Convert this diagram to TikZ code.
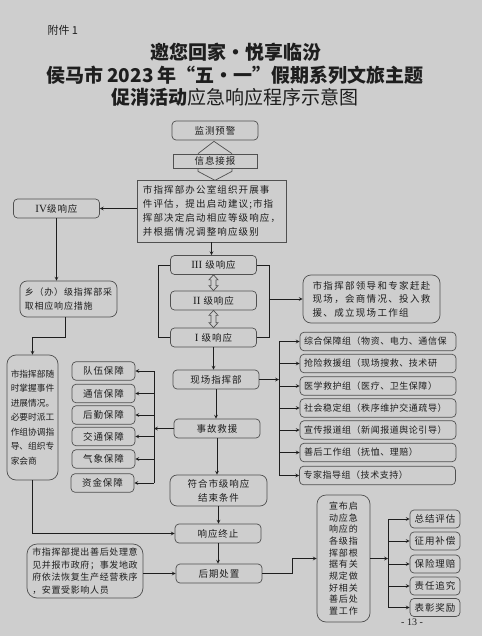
\documentclass[tikz,border=0pt]{standalone}
\usepackage{fontspec}
\usepackage{xcolor}
\usepackage{tikz}
\usetikzlibrary{arrows,calc}
\newfontfamily\cjk{Noto Sans CJK SC}
\newfontfamily\romn{Liberation Serif}
\newcommand{\rnum}[1]{{\romn\fontsize{11}{12}\selectfont #1}}
\definecolor{paper}{RGB}{206,206,206}
\definecolor{ink}{RGB}{30,30,30}
\definecolor{edge}{RGB}{80,80,80}

\begin{document}
\begin{tikzpicture}[
    x=1pt, y=-1pt,
    box/.style={rectangle, draw=edge, fill=paper, line width=0.7pt, rounded corners=4pt, inner sep=2pt, text=ink,
        font=\cjk\fontsize{9.5}{12}\selectfont\addfontfeature{LetterSpace=10}},
    stepbox/.style={box, minimum width=86, minimum height=19},
    supbox/.style={box, minimum width=63, minimum height=18.5},
    grpbox/.style={box, minimum width=156, minimum height=18.5, text width=148, align=left,
        font=\cjk\fontsize{9}{11}\selectfont\addfontfeature{LetterSpace=6}},
    finbox/.style={box, minimum width=50, minimum height=18},
    hollow/.style={draw=edge, line width=0.7pt},
    link/.style={draw=ink, line width=0.7pt},
    arrow/.style={->, >=stealth, draw=ink, line width=0.7pt}
]
    \fill[paper] (0,0) rectangle (482,636);

    % heading
    \node[anchor=west, text=ink, font=\cjk\fontsize{11}{13}\selectfont] (att) at (44,30) {附件 1};
    \node[text=ink, font=\cjk\bfseries\fontsize{19}{22}\selectfont] (t1) at (235.5,52) {邀您回家・悦享临汾};
    \node[text=ink, font=\cjk\bfseries\fontsize{19}{22}\selectfont] (t2) at (235,75) {侯马市 2023 年“五・一”假期系列文旅主题};
    \node[text=ink, font=\cjk\fontsize{19}{22}\selectfont] (t3) at (235,97) {{\bfseries 促消活动}应急响应程序示意图};

    % main column
    \node[stepbox] (mon) at (215,130.5) {监测预警};
    \node[box, sharp corners, minimum width=84, minimum height=14, inner sep=1pt] (info) at (215,161) {信息接报};
    \node[box, sharp corners, minimum width=149, minimum height=62, align=left,
        font=\cjk\fontsize{9.5}{14}\selectfont\addfontfeature{LetterSpace=12}] (office) at (211.5,211)
        {市指挥部办公室组织开展事\\件评估，提出启动建议;市指\\挥部决定启动相应等级响应，\\并根据情况调整响应级别};
    \node[stepbox] (l4) at (56.5,208.5) {\rnum{IV}级响应};
    \node[stepbox] (l3) at (213.5,265) {\rnum{III} 级响应};
    \node[stepbox] (l2) at (213.5,300.5) {\rnum{II} 级响应};
    \node[stepbox] (l1) at (213.5,337.5) {\rnum{I} 级响应};
    \node[box, rounded corners=8pt, minimum width=137, minimum height=48, align=left,
        font=\cjk\fontsize{9.5}{13.5}\selectfont\addfontfeature{LetterSpace=14}] (lead) at (371.5,299)
        {市指挥部领导和专家赶赴\\现场，会商情况、投入救\\援、成立现场工作组};
    \node[stepbox] (site) at (216,379.5) {现场指挥部};
    \node[stepbox] (rescue) at (217,428.5) {事故救援};
    \node[box, rounded corners=7pt, minimum width=97, minimum height=31, align=center,
        font=\cjk\fontsize{9.5}{14}\selectfont\addfontfeature{LetterSpace=10}] (endc) at (218.5,490.5)
        {符合市级响应\\结束条件};
    \node[stepbox] (stop) at (218,533.5) {响应终止};
    \node[stepbox] (later) at (219,573.5) {后期处置};

    % left column
    \node[box, rounded corners=7pt, minimum width=97, minimum height=36, align=left,
        font=\cjk\fontsize{9}{14}\selectfont\addfontfeature{LetterSpace=9}] (town) at (68.5,299)
        {乡（办）级指挥部采\\取相应响应措施};
    \node[box, rounded corners=9pt, minimum width=51, minimum height=125, align=left,
        font=\cjk\fontsize{8.7}{14.5}\selectfont] (track) at (32.5,417.5)
        {市指挥部随\\时掌握事件\\进展情况。\\必要时派工\\作组协调指\\导、组织专\\家会商};
    \node[box, rounded corners=10pt, minimum width=116, minimum height=54, align=left,
        font=\cjk\fontsize{9}{12.5}\selectfont\addfontfeature{LetterSpace=7}] (after) at (85,571)
        {市指挥部提出善后处理意\\见并报市政府；事发地政\\府依法恢复生产经营秩序\\，安置受影响人员};

    % support boxes
    \node[supbox] (s1) at (103.5,371) {队伍保障};
    \node[supbox] (s2) at (103.5,393.5) {通信保障};
    \node[supbox] (s3) at (103.5,415) {后勤保障};
    \node[supbox] (s4) at (103.5,436.5) {交通保障};
    \node[supbox] (s5) at (103.5,459) {气象保障};
    \node[supbox] (s6) at (102.5,483) {资金保障};

    % working groups
    \node[grpbox] (g1) at (378,341.5) {综合保障组（物资、电力、通信保};
    \node[grpbox] (g2) at (378,363.5) {抢险救援组（现场搜救、技术研};
    \node[grpbox] (g3) at (378,386) {医学救护组（医疗、卫生保障）};
    \node[grpbox] (g4) at (378,408) {社会稳定组（秩序维护交通疏导）};
    \node[grpbox] (g5) at (378,430) {宣传报道组（新闻报道舆论引导）};
    \node[grpbox] (g6) at (378,452.5) {善后工作组（抚恤、理赔）};
    \node[grpbox] (g7) at (377.5,475.5) {专家指导组（技术支持）};

    % aftermath
    \node[box, rounded corners=9pt, minimum width=53, minimum height=127, align=center,
        font=\cjk\fontsize{9}{11.7}\selectfont\addfontfeature{LetterSpace=10}] (announce) at (343.5,558.5)
        {宣布启\\动应急\\响应的\\各级指\\挥部根\\据有关\\规定做\\好相关\\善后处\\置工作};
    \node[finbox] (f1) at (435,519) {总结评估};
    \node[finbox] (f2) at (435,541) {征用补偿};
    \node[finbox] (f3) at (435,564) {保险理赔};
    \node[finbox] (f4) at (435,586) {责任追究};
    \node[finbox] (f5) at (435,607.5) {表彰奖励};
    \node[text=ink, font=\romn\fontsize{10}{12}\selectfont] (pg) at (412,622) {- 13 -};

    % hollow arrows
    \draw[hollow] ($(info.north)+(-17,0)$) -- ($(mon.south)+(-1,1)$) -- ($(info.north)+(17,0)$);
    \draw[hollow] ($(info.south)+(-17,0)$) -- ++(0,3) -- ($(info.south)+(0,12)$) -- ($(info.south)+(17,3)$) -- ++(0,-3);
    \draw[hollow] (l3.south) -- ++(4.5,5) -- ++(-2,0) -- ($(l2.north)+(2.5,-5)$) -- ++(2,0) -- (l2.north)
        -- ++(-4.5,-5) -- ++(2,0) -- ($(l3.south)+(-2.5,5)$) -- ++(-2,0) -- cycle;
    \draw[hollow] (l2.south) -- ++(4.5,5) -- ++(-2,0) -- ($(l1.north)+(2.5,-5)$) -- ++(2,0) -- (l1.north)
        -- ++(-4.5,-5) -- ++(2,0) -- ($(l2.south)+(-2.5,5)$) -- ++(-2,0) -- cycle;

    % connectors
    \draw[arrow] (l4.east -| office.west) -- (l4.east);
    \draw[arrow] (l4.south) -- (l4.south |- town.north);
    \draw[arrow] ([xshift=-3]town.south) -- ++(0,20) -| (track.north);
    \draw[arrow] (track.south) |- (stop.west);
    \draw[arrow] (office.south) -- (office.south |- l3.north);
    \draw[link] (l3.west) -- ++(-12,0) |- (l1.west);
    \draw[link] (l3.east) -- ++(12,0) |- (l1.east);
    \coordinate (rb) at ($(l2.east)+(12,0)$);
    \draw[arrow] (rb |- lead.west) -- (lead.west);
    \draw[arrow] (l1.south) -- (l1.south |- site.north);
    \draw[arrow] (site.south) -- (site.south |- rescue.north);

    \coordinate (gbus) at (279,379.5);
    \draw[arrow] (site.east) -- (gbus);
    \draw[link] (gbus |- g1.west) -- (gbus |- g7.west);
    \draw[arrow] (gbus |- g1.west) -- (g1.west);
    \draw[arrow] (gbus |- g2.west) -- (g2.west);
    \draw[arrow] (gbus |- g3.west) -- (g3.west);
    \draw[arrow] (gbus |- g4.west) -- (g4.west);
    \draw[arrow] (gbus |- g5.west) -- (g5.west);
    \draw[arrow] (gbus |- g6.west) -- (g6.west);
    \draw[arrow] (gbus |- g7.west) -- (g7.west);

    \coordinate (sbus) at (154,428.5);
    \draw[arrow] (rescue.west) -- (sbus);
    \draw[link] (sbus |- s1.east) -- (sbus |- s6.east);
    \draw[arrow] (sbus |- s1.east) -- (s1.east);
    \draw[arrow] (sbus |- s2.east) -- (s2.east);
    \draw[arrow] (sbus |- s3.east) -- (s3.east);
    \draw[arrow] (sbus |- s4.east) -- (s4.east);
    \draw[arrow] (sbus |- s5.east) -- (s5.east);
    \draw[arrow] (sbus |- s6.east) -- (s6.east);

    \draw[arrow] (rescue.south) -- (rescue.south |- endc.north);
    \draw[arrow] (endc.south) -- (endc.south |- stop.north);
    \draw[arrow] (stop.south) -- (stop.south |- later.north);
    \draw[arrow] (later.west -| after.east) -- (later.west);
    \draw[arrow] (later.east) -- ++(30,0) |- (announce.west);

    \coordinate (fbus) at (388,558.5);
    \draw[arrow] (announce.east) -- (fbus);
    \draw[link] (fbus |- f1.west) -- (fbus |- f5.west);
    \draw[arrow] (fbus |- f1.west) -- (f1.west);
    \draw[arrow] (fbus |- f2.west) -- (f2.west);
    \draw[arrow] (fbus |- f3.west) -- (f3.west);
    \draw[arrow] (fbus |- f4.west) -- (f4.west);
    \draw[arrow] (fbus |- f5.west) -- (f5.west);
\end{tikzpicture}
\end{document}
